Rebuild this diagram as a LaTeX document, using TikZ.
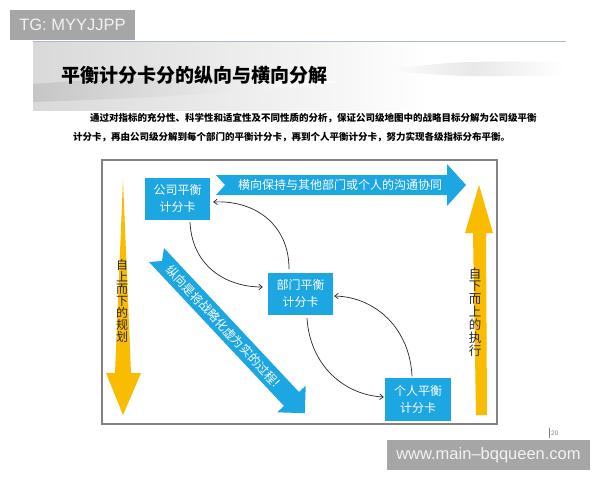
\documentclass[tikz,border=0pt]{standalone}
\usepackage{fontspec}
\newfontfamily\cjk{Noto Sans CJK SC}
\newfontfamily\wmfont{Liberation Sans}
\usetikzlibrary{arrows.meta,calc}
\definecolor{bsblue}{RGB}{28,166,226}
\definecolor{bsgold}{RGB}{250,188,0}
\definecolor{wmgray}{RGB}{166,166,166}
\definecolor{framegray}{RGB}{130,130,130}
\definecolor{topline}{RGB}{170,185,205}
\begin{document}
\begin{tikzpicture}[x=1pt,y=-1pt,
  card/.style={fill=bsblue, minimum width=65pt, minimum height=42pt, inner sep=0pt,
    text=white, align=center, font=\cjk\fontsize{12}{17}\selectfont},
  link/.style={draw=black!85, line width=0.7pt, -{Straight Barb[length=3.5pt,width=5.5pt]}},
  wmark/.style={fill=wmgray, inner sep=0pt, minimum height=30pt, text=white!95!black,
    font=\wmfont\fontsize{16.5}{16.5}\selectfont},
  vtext/.style={align=center, inner sep=0pt, text=black!85},
  bandtext/.style={text=white, inner sep=0pt, font=\cjk\fontsize{12}{12}\selectfont}]
\useasboundingbox (0,0) rectangle (600,480);
\fill[white] (0,0) rectangle (600,480);

% header band
\shade[left color=gray!30, right color=white] (33,41) rectangle (430,110);
\shade[left color=gray!45, right color=white] (33,84) .. controls (120,77) and (220,75) .. (340,82)
  .. controls (220,95) and (120,99) .. (33,102) -- cycle;
\shade[left color=white, right color=white, middle color=gray!18] (380,70) .. controls (460,61) .. (566,62)
  -- (566,75) .. controls (460,77) .. (380,70) -- cycle;
\draw[topline, line width=1pt] (33,41) -- (566,41);

% watermarks
\node[wmark, minimum width=125pt] (tg) at (72.5,25) {TG: MYYJJPP};
\node[wmark, minimum width=203pt] (url) at (488.5,455) {www.main–bqqueen.com};

% title and paragraph
\node[anchor=west, inner sep=0pt, font=\cjk\bfseries\fontsize{19}{19}\selectfont] (title) at (61,75) {平衡计分卡分的纵向与横向分解};
\node[anchor=west, inner sep=0pt, font=\cjk\bfseries\fontsize{9.5}{9.5}\selectfont] (p1) at (90,118) {通过对指标的充分性、科学性和适宜性及不同性质的分析，保证公司级地图中的战略目标分解为公司级平衡};
\node[anchor=west, inner sep=0pt, font=\cjk\bfseries\fontsize{9.5}{9.5}\selectfont] (p2) at (73,137) {计分卡，再由公司级分解到每个部门的平衡计分卡，再到个人平衡计分卡，努力实现各级指标分布平衡。};

% frame
\draw[framegray, line width=1.3pt, fill=white] (102,160) rectangle (497,424);

% yellow arrows
\fill[bsgold] (123,180) -- (131,373) -- (141,373) -- (123,415) -- (106,373) -- (115,373) -- cycle;
\fill[bsgold] (479,185) -- (493,233) -- (486,233) -- (487,415) -- (476,415) -- (473,233) -- (465,233) -- cycle;
\node[vtext, font=\cjk\fontsize{12}{12}\selectfont] (lt) at (122,301) {自\\上\\而\\下\\的\\规\\划};
\node[vtext, font=\cjk\fontsize{12.5}{12.9}\selectfont] (rt) at (475,312) {自\\下\\而\\上\\的\\执\\行};

% blue band arrows
\fill[bsblue] (216,175) -- (447,175) -- (447,164) -- (466,185) -- (447,206) -- (447,195) -- (216,195) -- (225,185) -- cycle;
\node[bandtext] (ht) at (340,185) {横向保持与其他部门或个人的沟通协同};
\fill[bsblue] (164,248) -- (299,392) -- (305.7,385.7) -- (304.8,413.2) -- (277.3,412.3) -- (284,406) -- (149,262) -- (162,261) -- cycle;
\node[bandtext, rotate=-47] (dt) at (226,329) {纵向是将战略化虚为实的过程！};

% cards
\node[card] (c) at (177.5,198.5) {公司平衡\\计分卡};
\node[card] (d) at (300.5,293.5) {部门平衡\\计分卡};
\node[card, minimum width=66pt, minimum height=43pt] (p) at (418,399.5) {个人平衡\\计分卡};

% connectors
\draw[link] ([xshift=12.5pt,yshift=-2.5pt]c.south) .. controls +(2,43) and +(-38,0) .. ([xshift=-5pt,yshift=6.5pt]d.west);
\draw[link] ([xshift=-11.5pt,yshift=3.5pt]d.north) .. controls +(0,-44) and +(42,-2) .. ([xshift=3pt,yshift=-3.5pt]c.east);
\draw[link] ([xshift=6.5pt,yshift=-3.5pt]d.south) .. controls +(3,47) and +(-40,-2) .. ([xshift=-1pt,yshift=2.5pt]p.west);
\draw[link] ([xshift=-6pt,yshift=1.5pt]p.north) .. controls +(-2,-47) and +(42,1) .. ([xshift=1pt,yshift=-2.5pt]d.east);

% page number
\draw[gray, line width=0.5pt] (549,428) -- (549,438);
\node[anchor=west, inner sep=0pt, text=gray, font=\wmfont\fontsize{6.5}{6.5}\selectfont] (pg) at (551,433) {20};
\end{tikzpicture}
\end{document}
